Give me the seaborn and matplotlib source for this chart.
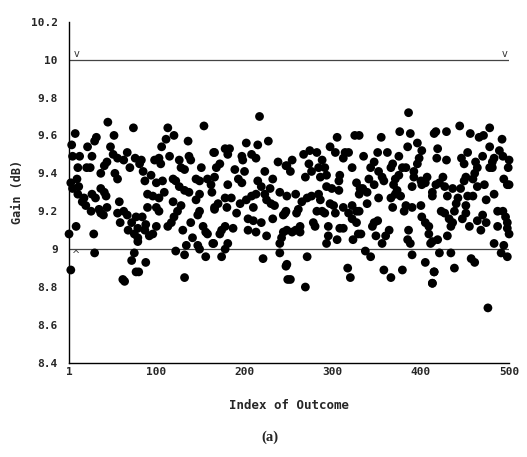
import numpy as np
import pandas as pd
import matplotlib
matplotlib.use("Agg")
import matplotlib.pyplot as plt
import seaborn as sns

# ---- data (index of outcome, gain in dB) ----
idx_1 = [45, 8, 74, 32, 30, 52, 4, 22, 48, 67, 5, 13, 27, 51, 56, 76, 41, 44, 63, 70,
         11, 21, 25, 37, 53, 56, 10, 3, 5, 12, 37, 41, 11, 18, 27, 43, 16, 20, 31, 35,
         44, 58, 26, 37, 40, 56, 63, 67, 59, 72, 77, 9, 68, 75, 1, 29, 79, 30, 75, 72,
         3, 77, 62, 64]
gain_1 = [9.67, 9.61, 9.64, 9.59, 9.57, 9.60, 9.55, 9.54, 9.54, 9.51, 9.49, 9.49, 9.49, 9.50, 9.48, 9.48, 9.44, 9.46, 9.47, 9.43,
          9.43, 9.43, 9.43, 9.40, 9.40, 9.37, 9.37, 9.35, 9.32, 9.33, 9.32, 9.30, 9.29, 9.27, 9.29, 9.28, 9.25, 9.23, 9.27, 9.21,
          9.22, 9.25, 9.20, 9.19, 9.18, 9.19, 9.20, 9.18, 9.14, 9.14, 9.17, 9.12, 9.10, 9.08, 9.08, 9.08, 9.04, 8.98, 8.98, 8.94,
          8.89, 8.88, 8.84, 8.83]

idx_2 = [113, 154, 120, 136, 111, 106, 165, 83, 81, 98, 103, 115, 105, 126, 137, 139, 128, 132, 151, 85,
         87, 94, 100, 107, 119, 122, 145, 149, 158, 162, 126, 90, 96, 109, 132, 137, 149, 103, 119, 145,
         100, 90, 128, 103, 124, 149, 166, 84, 120, 147, 117, 139, 88, 100, 113, 153, 79, 87, 130, 156,
         96, 92, 141, 158, 79, 164, 147, 134, 122, 132, 149, 156, 88, 80, 132]
gain_2 = [9.64, 9.65, 9.60, 9.57, 9.58, 9.54, 9.51, 9.47, 9.45, 9.47, 9.48, 9.49, 9.45, 9.47, 9.49, 9.47, 9.43, 9.42, 9.43, 9.41,
          9.36, 9.39, 9.35, 9.36, 9.37, 9.36, 9.37, 9.36, 9.37, 9.34, 9.33, 9.29, 9.28, 9.30, 9.31, 9.30, 9.29, 9.27, 9.25, 9.26,
          9.22, 9.22, 9.23, 9.20, 9.20, 9.20, 9.22, 9.17, 9.17, 9.18, 9.14, 9.14, 9.13, 9.12, 9.12, 9.12, 9.11, 9.10, 9.10, 9.09,
          9.08, 9.07, 9.06, 9.08, 9.06, 9.03, 9.02, 9.02, 8.99, 8.97, 9.00, 8.96, 8.93, 8.88, 8.85]

idx_3 = [217, 227, 202, 215, 166, 178, 183, 181, 208, 197, 198, 213, 238, 172, 168, 247, 189, 200, 223, 166,
         193, 197, 215, 232, 181, 219, 229, 163, 240, 223, 213, 178, 185, 208, 202, 225, 230, 170, 195, 166,
         180, 210, 234, 247, 191, 244, 232, 204, 210, 219, 178, 187, 174, 204, 213, 225, 172, 244, 242, 240,
         165, 181, 178, 240, 174, 221, 247, 249]
gain_3 = [9.70, 9.57, 9.56, 9.55, 9.51, 9.53, 9.53, 9.50, 9.50, 9.49, 9.47, 9.48, 9.46, 9.45, 9.43, 9.44, 9.42, 9.41, 9.41, 9.38,
          9.37, 9.35, 9.36, 9.37, 9.34, 9.33, 9.32, 9.30, 9.30, 9.29, 9.29, 9.27, 9.27, 9.28, 9.26, 9.26, 9.24, 9.24, 9.24, 9.21,
          9.22, 9.22, 9.23, 9.20, 9.19, 9.18, 9.16, 9.16, 9.15, 9.14, 9.12, 9.11, 9.10, 9.10, 9.09, 9.07, 9.08, 9.09, 9.06, 9.03,
          9.03, 9.03, 9.00, 8.98, 8.96, 8.95, 8.91, 8.84]

idx_4 = [305, 325, 297, 303, 274, 267, 282, 314, 318, 254, 288, 312, 248, 273, 284, 291, 322, 252, 276, 269,
         286, 293, 308, 307, 327, 293, 299, 307, 331, 258, 271, 276, 284, 248, 265, 286, 297, 301, 312, 322,
         261, 282, 288, 327, 246, 259, 303, 318, 291, 322, 327, 278, 280, 295, 248, 254, 263, 263, 308, 312,
         258, 295, 305, 323, 329, 293, 248, 271, 252, 269, 317, 320]
gain_4 = [9.59, 9.60, 9.54, 9.51, 9.52, 9.50, 9.51, 9.51, 9.51, 9.47, 9.47, 9.48, 9.44, 9.45, 9.43, 9.43, 9.43, 9.41, 9.41, 9.38,
          9.38, 9.39, 9.39, 9.36, 9.35, 9.33, 9.32, 9.31, 9.32, 9.29, 9.27, 9.28, 9.29, 9.28, 9.25, 9.26, 9.24, 9.23, 9.22, 9.23,
          9.21, 9.20, 9.20, 9.20, 9.19, 9.19, 9.19, 9.19, 9.19, 9.16, 9.14, 9.14, 9.12, 9.12, 9.10, 9.09, 9.09, 9.12, 9.11, 9.11,
          9.10, 9.07, 9.05, 9.05, 9.08, 9.03, 8.92, 8.96, 8.84, 8.80, 8.90, 8.85]

idx_5 = [386, 330, 355, 376, 388, 415, 396, 385, 401, 351, 362, 335, 375, 398, 347, 368, 396, 343, 366, 379,
         383, 352, 392, 356, 375, 392, 407, 341, 358, 371, 400, 405, 347, 369, 390, 401, 334, 373, 330, 339,
         371, 413, 377, 366, 352, 339, 368, 383, 390, 400, 381, 330, 401, 405, 347, 351, 409, 345, 386, 364,
         409, 332, 360, 349, 385, 356, 388, 411, 337, 343, 390, 405, 415, 358, 379, 366, 413]
gain_5 = [9.72, 9.60, 9.59, 9.62, 9.61, 9.61, 9.56, 9.54, 9.52, 9.51, 9.51, 9.49, 9.49, 9.48, 9.46, 9.45, 9.45, 9.43, 9.43, 9.43,
          9.43, 9.41, 9.41, 9.38, 9.39, 9.38, 9.38, 9.37, 9.36, 9.37, 9.36, 9.35, 9.34, 9.34, 9.33, 9.34, 9.32, 9.31, 9.29, 9.30,
          9.29, 9.28, 9.28, 9.27, 9.27, 9.24, 9.22, 9.23, 9.22, 9.23, 9.20, 9.20, 9.17, 9.14, 9.14, 9.15, 9.12, 9.12, 9.10, 9.10,
          9.08, 9.08, 9.07, 9.07, 9.05, 9.03, 9.03, 9.03, 8.99, 8.96, 8.97, 8.93, 8.88, 8.89, 8.89, 8.85, 8.82]

idx_6 = [444, 478, 417, 429, 456, 466, 471, 492, 419, 478, 489, 453, 446, 470, 483, 493, 418, 429, 449, 462,
         481, 500, 464, 478, 481, 499, 461, 451, 425, 494, 421, 449, 459, 498, 500, 417, 427, 436, 445, 464,
         472, 413, 430, 442, 453, 459, 483, 474, 440, 451, 438, 423, 487, 493, 427, 451, 496, 432, 436, 447,
         470, 464, 498, 434, 455, 474, 487, 498, 468, 430, 419, 413, 500, 483, 494, 421, 434, 491, 498, 457,
         461, 438, 415, 413, 476]
gain_6 = [9.65, 9.64, 9.62, 9.62, 9.61, 9.59, 9.60, 9.58, 9.53, 9.54, 9.52, 9.51, 9.48, 9.49, 9.48, 9.49, 9.48, 9.47, 9.45, 9.46,
          9.46, 9.47, 9.43, 9.43, 9.43, 9.43, 9.40, 9.38, 9.38, 9.37, 9.35, 9.36, 9.37, 9.34, 9.34, 9.34, 9.33, 9.32, 9.32, 9.33,
          9.34, 9.30, 9.28, 9.27, 9.28, 9.28, 9.29, 9.26, 9.24, 9.23, 9.20, 9.20, 9.20, 9.20, 9.19, 9.19, 9.17, 9.16, 9.14, 9.16,
          9.18, 9.15, 9.14, 9.12, 9.12, 9.14, 9.12, 9.11, 9.10, 9.07, 9.05, 9.04, 9.08, 9.03, 9.02, 8.98, 8.98, 8.98, 8.96, 8.95,
          8.93, 8.90, 8.88, 8.82, 8.69]

spec_limits = [9.0, 10.0]
upper_marks_x = [9, 495]
lower_marks_x = [9]

x_ticks = [1, 100, 200, 300, 400, 500]
y_ticks = [8.4, 8.6, 8.8, 9.0, 9.2, 9.4, 9.6, 9.8, 10.0, 10.2]
y_tick_labels = ["8.4", "8.6", "8.8", "9", "9.2", "9.4", "9.6", "9.8", "10", "10.2"]

df = pd.DataFrame({
    "idx": idx_1 + idx_2 + idx_3 + idx_4 + idx_5 + idx_6,
    "gain": gain_1 + gain_2 + gain_3 + gain_4 + gain_5 + gain_6,
})

sns.set_style("white")
mono = ["DejaVu Sans Mono"]
plt.rcParams["font.family"] = mono

fig = plt.figure(figsize=(5.27, 4.57), dpi=100)
ax = fig.add_axes([0.131, 0.206, 0.835, 0.7465])

for lim in spec_limits:
    ax.axhline(lim, color="#444444", lw=0.9, zorder=1)

sns.scatterplot(data=df, x="idx", y="gain", ax=ax, color="black", s=40,
                edgecolor="none", linewidth=0, zorder=3, clip_on=False, legend=False)

for xm in upper_marks_x:
    ax.text(xm, spec_limits[1] + 0.005, "v", ha="center", va="bottom",
            fontsize=7, color="#333333", family="DejaVu Sans")
for xm in lower_marks_x:
    ax.text(xm, spec_limits[0] - 0.005, "^", ha="center", va="top",
            fontsize=7, color="#333333", family="DejaVu Sans")

ax.set_xlim(1, 500)
ax.set_ylim(8.4, 10.2)
ax.set_xticks(x_ticks)
ax.set_xticklabels([str(t) for t in x_ticks], fontweight="bold", fontsize=8)
ax.set_yticks(y_ticks)
ax.set_yticklabels(y_tick_labels, fontweight="bold", fontsize=8)
ax.tick_params(axis="y", length=0, pad=8)
ax.tick_params(axis="x", length=0, pad=3)

ax.set_xlabel("Index of Outcome", fontweight="bold", fontsize=9, labelpad=16)
ax.set_ylabel("Gain (dB)", fontweight="bold", fontsize=8.5, labelpad=5)

for side in ["top", "right"]:
    ax.spines[side].set_visible(False)
for side in ["left", "bottom"]:
    ax.spines[side].set_color("black")
    ax.spines[side].set_linewidth(1.0)

fig.text(0.513, 0.044, "(a)", ha="center", va="center", fontsize=10.5,
         fontweight="bold", family=["Liberation Serif"])

fig.savefig("out.png", dpi=100)
